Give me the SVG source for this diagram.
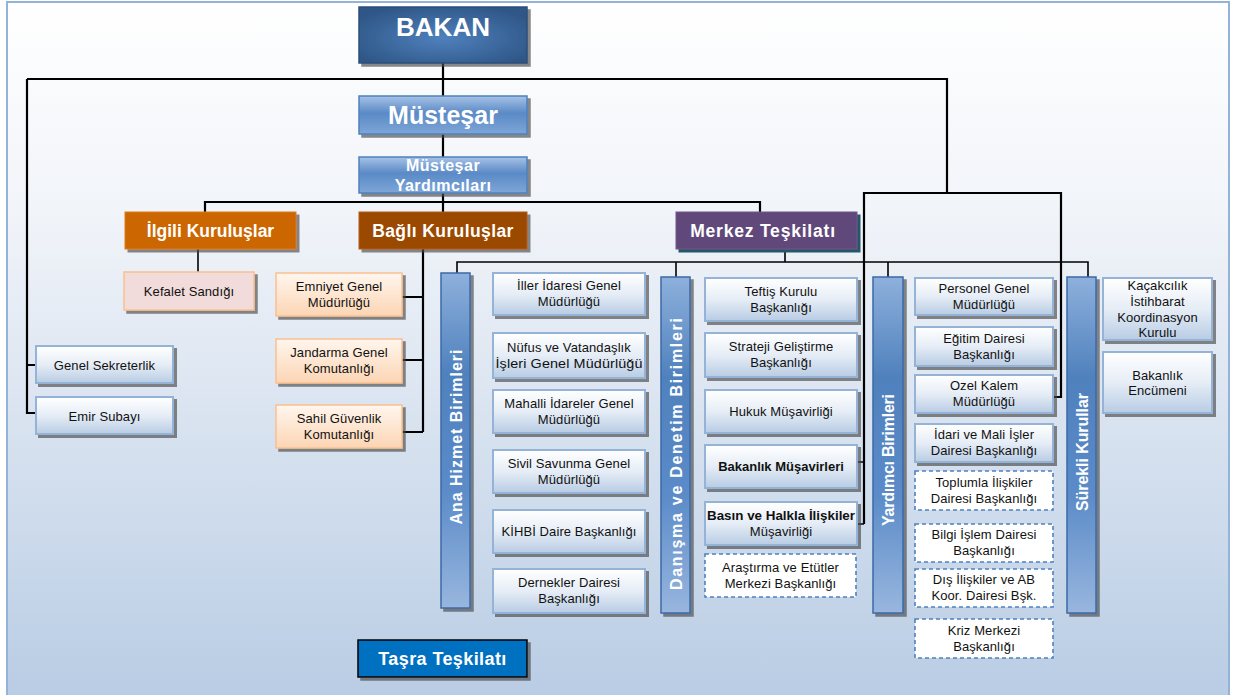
<svg xmlns="http://www.w3.org/2000/svg" width="1234" height="695" viewBox="0 0 1234 695">
<defs>
<linearGradient id="bg" x1="0" y1="0" x2="0" y2="1">
<stop offset="0" stop-color="#ffffff"/><stop offset="0.3" stop-color="#f1f4f9"/><stop offset="1" stop-color="#b8cce4"/>
</linearGradient>
<radialGradient id="gBakan" cx="0.5" cy="0.55" r="0.6">
<stop offset="0" stop-color="#4f81bd"/><stop offset="1" stop-color="#2f5787"/>
</radialGradient>
<linearGradient id="gMus" x1="0" y1="0" x2="0" y2="1">
<stop offset="0" stop-color="#a7c2e6"/><stop offset="0.45" stop-color="#5a8ac6"/><stop offset="1" stop-color="#7ea6d8"/>
</linearGradient>
<linearGradient id="gBox" x1="0" y1="0" x2="0" y2="1">
<stop offset="0" stop-color="#ffffff"/><stop offset="0.5" stop-color="#e6edf6"/><stop offset="1" stop-color="#b8cce4"/>
</linearGradient>
<linearGradient id="gPeach" x1="0" y1="0" x2="0" y2="1">
<stop offset="0" stop-color="#fff6ee"/><stop offset="1" stop-color="#fcd5b4"/>
</linearGradient>
<linearGradient id="gBar" x1="0" y1="0" x2="0" y2="1">
<stop offset="0" stop-color="#8eb0dc"/><stop offset="0.3" stop-color="#4f81bd"/><stop offset="0.65" stop-color="#5b8bc8"/><stop offset="1" stop-color="#98b6de"/>
</linearGradient>
<filter id="sh" x="-10%" y="-10%" width="130%" height="140%">
<feDropShadow dx="3" dy="3" stdDeviation="0.6" flood-color="#4a4a4a" flood-opacity="0.65"/>
</filter>
<filter id="shT" x="-10%" y="-10%" width="130%" height="140%">
<feDropShadow dx="3" dy="3" stdDeviation="0.4" flood-color="#215967" flood-opacity="1"/>
</filter>
</defs>
<style>
text { font-family: "Liberation Sans", Arial, sans-serif; text-anchor: middle; }
.t { font-size: 13px; fill: #111; letter-spacing: 0.1px; }
.tb { font-size: 13px; fill: #111; font-weight: bold; }
.w { fill: #ffffff; font-weight: bold; }
.box { fill: url(#gBox); stroke: #95b3d7; stroke-width: 2; filter: url(#sh); }
.dash { fill: #ffffff; stroke: #4f81bd; stroke-width: 1.6; stroke-dasharray: 4 3; }
.peach { fill: url(#gPeach); stroke: #fac090; stroke-width: 1.5; filter: url(#sh); }
.bar { fill: url(#gBar); stroke: #3b6aa6; stroke-width: 1.5; filter: url(#sh); }
.vt { font-size: 16px; fill: #ffffff; font-weight: bold; }
.ln { stroke: #000; fill: none; stroke-width: 2.2; }
.ln2 { stroke: #000; fill: none; stroke-width: 1.6; }
</style>

<rect x="7" y="2" width="1222" height="702" fill="url(#bg)" stroke="#95b3d7" stroke-width="2"/>

<g id="connectors">
<path class="ln" d="M443 63 V212"/>
<path class="ln" d="M27 79 H947 V193"/>
<path class="ln" d="M27 79 V413 H36 M27 365 H36"/>
<path class="ln" d="M864 524 V193 H1061 V397 H1053"/>
<path class="ln2" d="M857 462 H864 M857 524 H864"/>
<path class="ln" d="M205 212 V202 H760 V212"/>
<path class="ln2" d="M198 249 V272"/>
<path class="ln" d="M423 249 V432 M402 297 H423 M402 360 H423 M402 432 H423"/>
<path class="ln2" d="M785 249 V262 M457 273 V262 H1088 V277 M676 262 V277 M888 262 V277"/>
</g>

<g id="bakan">
<rect x="359" y="7" width="168" height="56" fill="url(#gBakan)" stroke="#2b4f7c" stroke-width="1.5" filter="url(#sh)"/>
<text class="w" x="443" y="36" font-size="26">BAKAN</text>
</g>
<g id="mustesar">
<rect x="359" y="96" width="168" height="38" fill="url(#gMus)" stroke="#4f81bd" stroke-width="1.5" filter="url(#sh)"/>
<text class="w" x="443" y="124" font-size="25">Müsteşar</text>
</g>
<g id="mustesar-yard">
<rect x="359" y="157" width="168" height="36" fill="url(#gMus)" stroke="#4f81bd" stroke-width="1.5" filter="url(#sh)"/>
<text class="w" x="443" y="170.5" font-size="16" letter-spacing="0.5">Müsteşar</text>
<text class="w" x="443" y="191" font-size="16" letter-spacing="0.5">Yardımcıları</text>
</g>

<g id="ilgili">
<rect x="125" y="212" width="171" height="37" fill="#cc6600" stroke="#e07a1a" stroke-width="1" filter="url(#sh)"/>
<text class="w" x="210.5" y="237" font-size="17.5">İlgili Kuruluşlar</text>
</g>
<g id="bagli">
<rect x="359" y="212" width="168" height="37" fill="#9c4a06" stroke="#b35a10" stroke-width="1" filter="url(#sh)"/>
<text class="w" x="443" y="237" font-size="17.5" letter-spacing="0.4">Bağlı Kuruluşlar</text>
</g>
<g id="merkez">
<rect x="676" y="212" width="181" height="37" fill="#60497a" stroke="#6e578a" stroke-width="1" filter="url(#shT)"/>
<text class="w" x="763" y="237" font-size="17.5" letter-spacing="0.8">Merkez Teşkilatı</text>
</g>

<g id="kefalet">
<rect x="124" y="272" width="130" height="38" fill="#f2dcdb" stroke="#fac090" stroke-width="1.5" filter="url(#sh)"/>
<text class="t" x="189" y="295.5" letter-spacing="0.4">Kefalet Sandığı</text>
</g>
<g id="emniyet">
<rect class="peach" x="276" y="273" width="126" height="43"/>
<text class="t" x="339" y="290.5">Emniyet Genel</text>
<text class="t" x="339" y="306.5">Müdürlüğü</text>
</g>
<g id="jandarma">
<rect class="peach" x="276" y="339" width="126" height="44"/>
<text class="t" x="339" y="357">Jandarma Genel</text>
<text class="t" x="339" y="373">Komutanlığı</text>
</g>
<g id="sahil">
<rect class="peach" x="276" y="405" width="126" height="43"/>
<text class="t" x="339" y="422.5">Sahil Güvenlik</text>
<text class="t" x="339" y="438.5">Komutanlığı</text>
</g>

<g id="genel-sekreterlik">
<rect class="box" x="36" y="346" width="137" height="37"/>
<text class="t" x="104.5" y="369.5" letter-spacing="0.4">Genel Sekreterlik</text>
</g>
<g id="emir-subayi">
<rect class="box" x="36" y="397" width="137" height="37"/>
<text class="t" x="104.5" y="420.5" letter-spacing="0.3">Emir Subayı</text>
</g>

<g id="bar-ana">
<rect class="bar" x="441" y="273" width="29" height="335"/>
<text class="vt" transform="translate(461.5 437) rotate(-90)" x="0" y="0" textLength="175" lengthAdjust="spacing">Ana Hizmet Birimleri</text>
</g>
<g id="bar-danisma">
<rect class="bar" x="661" y="277" width="29" height="336"/>
<text class="vt" transform="translate(681.5 454) rotate(-90)" x="0" y="0" textLength="272" lengthAdjust="spacing">Danışma ve Denetim Birimleri</text>
</g>
<g id="bar-yardimci">
<rect class="bar" x="873" y="277" width="30" height="336"/>
<text class="vt" transform="translate(894 460) rotate(-90)" x="0" y="0" textLength="132" lengthAdjust="spacing">Yardımcı Birimleri</text>
</g>
<g id="bar-surekli">
<rect class="bar" x="1067" y="277" width="29" height="336"/>
<text class="vt" transform="translate(1087.5 452) rotate(-90)" x="0" y="0" textLength="118" lengthAdjust="spacing">Sürekli Kurullar</text>
</g>

<g id="iller">
<rect class="box" x="493" y="273" width="152" height="42"/>
<text class="t" x="569" y="290">İller İdaresi Genel</text>
<text class="t" x="569" y="306">Müdürlüğü</text>
</g>
<g id="nufus">
<rect class="box" x="493" y="333" width="152" height="45"/>
<text class="t" x="569" y="351.5">Nüfus ve Vatandaşlık</text>
<text class="t" x="569" y="367.5" textLength="147" lengthAdjust="spacingAndGlyphs">İşleri Genel Müdürlüğü</text>
</g>
<g id="mahalli">
<rect class="box" x="493" y="390" width="152" height="43"/>
<text class="t" x="569" y="407.5">Mahalli İdareler Genel</text>
<text class="t" x="569" y="423.5">Müdürlüğü</text>
</g>
<g id="sivil">
<rect class="box" x="493" y="450" width="152" height="43"/>
<text class="t" x="569" y="467.5">Sivil Savunma Genel</text>
<text class="t" x="569" y="483.5">Müdürlüğü</text>
</g>
<g id="kihbi">
<rect class="box" x="493" y="510" width="152" height="43"/>
<text class="t" x="569" y="536">KİHBİ Daire Başkanlığı</text>
</g>
<g id="dernekler">
<rect class="box" x="493" y="569" width="152" height="44"/>
<text class="t" x="569" y="587">Dernekler Dairesi</text>
<text class="t" x="569" y="603">Başkanlığı</text>
</g>

<g id="teftis">
<rect class="box" x="705" y="278" width="152" height="43"/>
<text class="t" x="781" y="295.5">Teftiş Kurulu</text>
<text class="t" x="781" y="311.5">Başkanlığı</text>
</g>
<g id="strateji">
<rect class="box" x="705" y="333" width="152" height="44"/>
<text class="t" x="781" y="351">Strateji Geliştirme</text>
<text class="t" x="781" y="367">Başkanlığı</text>
</g>
<g id="hukuk">
<rect class="box" x="705" y="390" width="152" height="43"/>
<text class="t" x="781" y="416">Hukuk Müşavirliği</text>
</g>
<g id="bakanlik-musavirleri">
<rect class="box" x="705" y="445" width="152" height="43"/>
<text class="tb" x="781" y="471">Bakanlık Müşavirleri</text>
</g>
<g id="basin">
<rect class="box" x="705" y="502" width="152" height="43"/>
<text class="tb" x="781" y="519.5" textLength="148" lengthAdjust="spacingAndGlyphs">Basın ve Halkla İlişkiler</text>
<text class="t" x="781" y="535.5">Müşavirliği</text>
</g>
<g id="arastirma">
<rect class="dash" x="705" y="554" width="151" height="43"/>
<text class="t" x="780.5" y="571.5">Araştırma ve Etütler</text>
<text class="t" x="780.5" y="587.5">Merkezi Başkanlığı</text>
</g>

<g id="personel">
<rect class="box" x="915" y="278" width="138" height="37"/>
<text class="t" x="984" y="292.5">Personel Genel</text>
<text class="t" x="984" y="308.5">Müdürlüğü</text>
</g>
<g id="egitim">
<rect class="box" x="915" y="327" width="138" height="39"/>
<text class="t" x="984" y="342.5">Eğitim Dairesi</text>
<text class="t" x="984" y="358.5">Başkanlığı</text>
</g>
<g id="ozel-kalem">
<rect class="box" x="915" y="375" width="138" height="38"/>
<text class="t" x="984" y="390">Ozel Kalem</text>
<text class="t" x="984" y="406">Müdürlüğü</text>
</g>
<g id="idari-mali">
<rect class="box" x="915" y="424" width="138" height="38"/>
<text class="t" x="984" y="439">İdari ve Mali İşler</text>
<text class="t" x="984" y="455">Dairesi Başkanlığı</text>
</g>
<g id="toplumla">
<rect class="dash" x="915" y="471" width="138" height="39"/>
<text class="t" x="984" y="486.5">Toplumla İlişkiler</text>
<text class="t" x="984" y="502.5">Dairesi Başkanlığı</text>
</g>
<g id="bilgi-islem">
<rect class="dash" x="915" y="524" width="138" height="38"/>
<text class="t" x="984" y="539">Bilgi İşlem Dairesi</text>
<text class="t" x="984" y="555">Başkanlığı</text>
</g>
<g id="dis-iliskiler">
<rect class="dash" x="915" y="569" width="138" height="38"/>
<text class="t" x="984" y="584">Dış İlişkiler ve AB</text>
<text class="t" x="984" y="600">Koor. Dairesi Bşk.</text>
</g>
<g id="kriz">
<rect class="dash" x="915" y="619" width="138" height="39"/>
<text class="t" x="984" y="634.5">Kriz Merkezi</text>
<text class="t" x="984" y="650.5">Başkanlığı</text>
</g>

<g id="kacakcilik">
<rect class="box" x="1103" y="278" width="109" height="62"/>
<text class="t" x="1157.5" y="289.5">Kaçakcılık</text>
<text class="t" x="1157.5" y="305.5">İstihbarat</text>
<text class="t" x="1157.5" y="321.5">Koordinasyon</text>
<text class="t" x="1157.5" y="336.5">Kurulu</text>
</g>
<g id="encumen">
<rect class="box" x="1103" y="352" width="109" height="61"/>
<text class="t" x="1157.5" y="379.5">Bakanlık</text>
<text class="t" x="1157.5" y="394.5">Encümeni</text>
</g>

<g id="tasra">
<rect x="358" y="640" width="169" height="37" fill="#0070c0" stroke="#000" stroke-width="1.5" filter="url(#sh)"/>
<text class="w" x="442.5" y="665" font-size="18" letter-spacing="0.4">Taşra Teşkilatı</text>
</g>
</svg>
